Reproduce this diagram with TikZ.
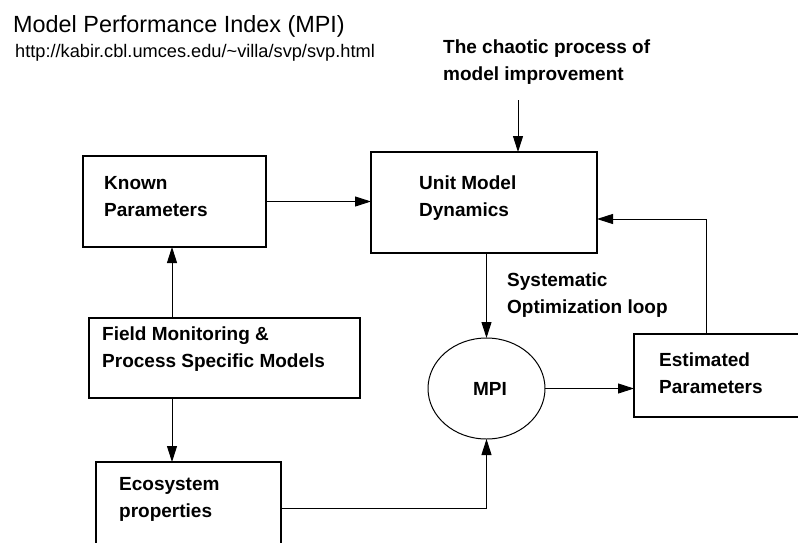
\documentclass[tikz,border=0pt]{standalone}
\usepackage{fontspec}
\setmainfont{Liberation Sans}
\usetikzlibrary{arrows.meta,shapes.geometric}
\tikzset{
  box/.style={draw, line width=1.2pt, inner sep=0pt, outer sep=0pt},
  lbl/.style={font=\bfseries\fontsize{19}{27}\selectfont, inner sep=0pt, anchor=base west, align=left},
  arr/.style={line width=1pt, -{Triangle[length=16pt,width=10pt]}}
}
\begin{document}
\begin{tikzpicture}[x=1pt,y=-1pt]
\useasboundingbox (0,0) rectangle (798,542);
\clip (0,0) rectangle (798,542);
% title texts
\node[inner sep=0pt, anchor=base west, font=\fontsize{23.4}{28}\selectfont] (title) at (13,32) {Model Performance Index (MPI)};
\node[inner sep=0pt, anchor=base west, font=\fontsize{18.2}{22}\selectfont] (url) at (15,57) {http://kabir.cbl.umces.edu/\textasciitilde villa/svp/svp.html};
\node[lbl] (chaos) at (443,80) {The chaotic process of\\model improvement};
% boxes
\node[box, minimum width=183pt, minimum height=91pt] (known) at (174.5,201.5) {};
\node[box, minimum width=226pt, minimum height=101pt] (unit) at (484,202.5) {};
\node[box, minimum width=271pt, minimum height=80pt] (field) at (224.5,358) {};
\node[box, minimum width=185pt, minimum height=92pt] (eco) at (188.5,508) {};
\node[box, minimum width=176pt, minimum height=83pt] (est) at (722,375.5) {};
\node[draw, ellipse, line width=1pt, inner sep=0pt, outer sep=0pt, minimum width=117pt, minimum height=101pt] (mpi) at (486.5,388.5) {};
% texts in boxes (anchored at the baseline of the last line)
\node[lbl] (knowntxt) at (104,216) {Known\\Parameters};
\node[lbl] (unittxt) at (419,216) {Unit Model\\Dynamics};
\node[lbl] (fieldtxt) at (102,367) {Field Monitoring \&\\Process Specific Models};
\node[lbl] (ecotxt) at (119,517) {Ecosystem\\properties};
\node[lbl] (esttxt) at (659,393) {Estimated\\Parameters};
\node[lbl, anchor=base] (mpitxt) at (490,395) {MPI};
\node[lbl] (systxt) at (507,313) {Systematic\\Optimization loop};
% connectors
\coordinate (chaosend) at (518,100);
\coordinate (lx) at (172,0);
\coordinate (fb) at (706,219);
\draw[arr] (known.east) -- (known.east -| unit.west);
\draw[arr] (chaosend) -- (chaosend |- unit.north);
\draw[arr] (mpi.north |- unit.south) -- (mpi.north);
\draw[arr] (lx |- field.north) -- (lx |- known.south);
\draw[arr] (lx |- field.south) -- (lx |- eco.north);
\draw[arr] (eco.east) -| (mpi.south);
\draw[arr] (mpi.east) -- (mpi.east -| est.west);
\draw[arr] (fb |- est.north) -- (fb) -- (fb -| unit.east);
\end{tikzpicture}
\end{document}
